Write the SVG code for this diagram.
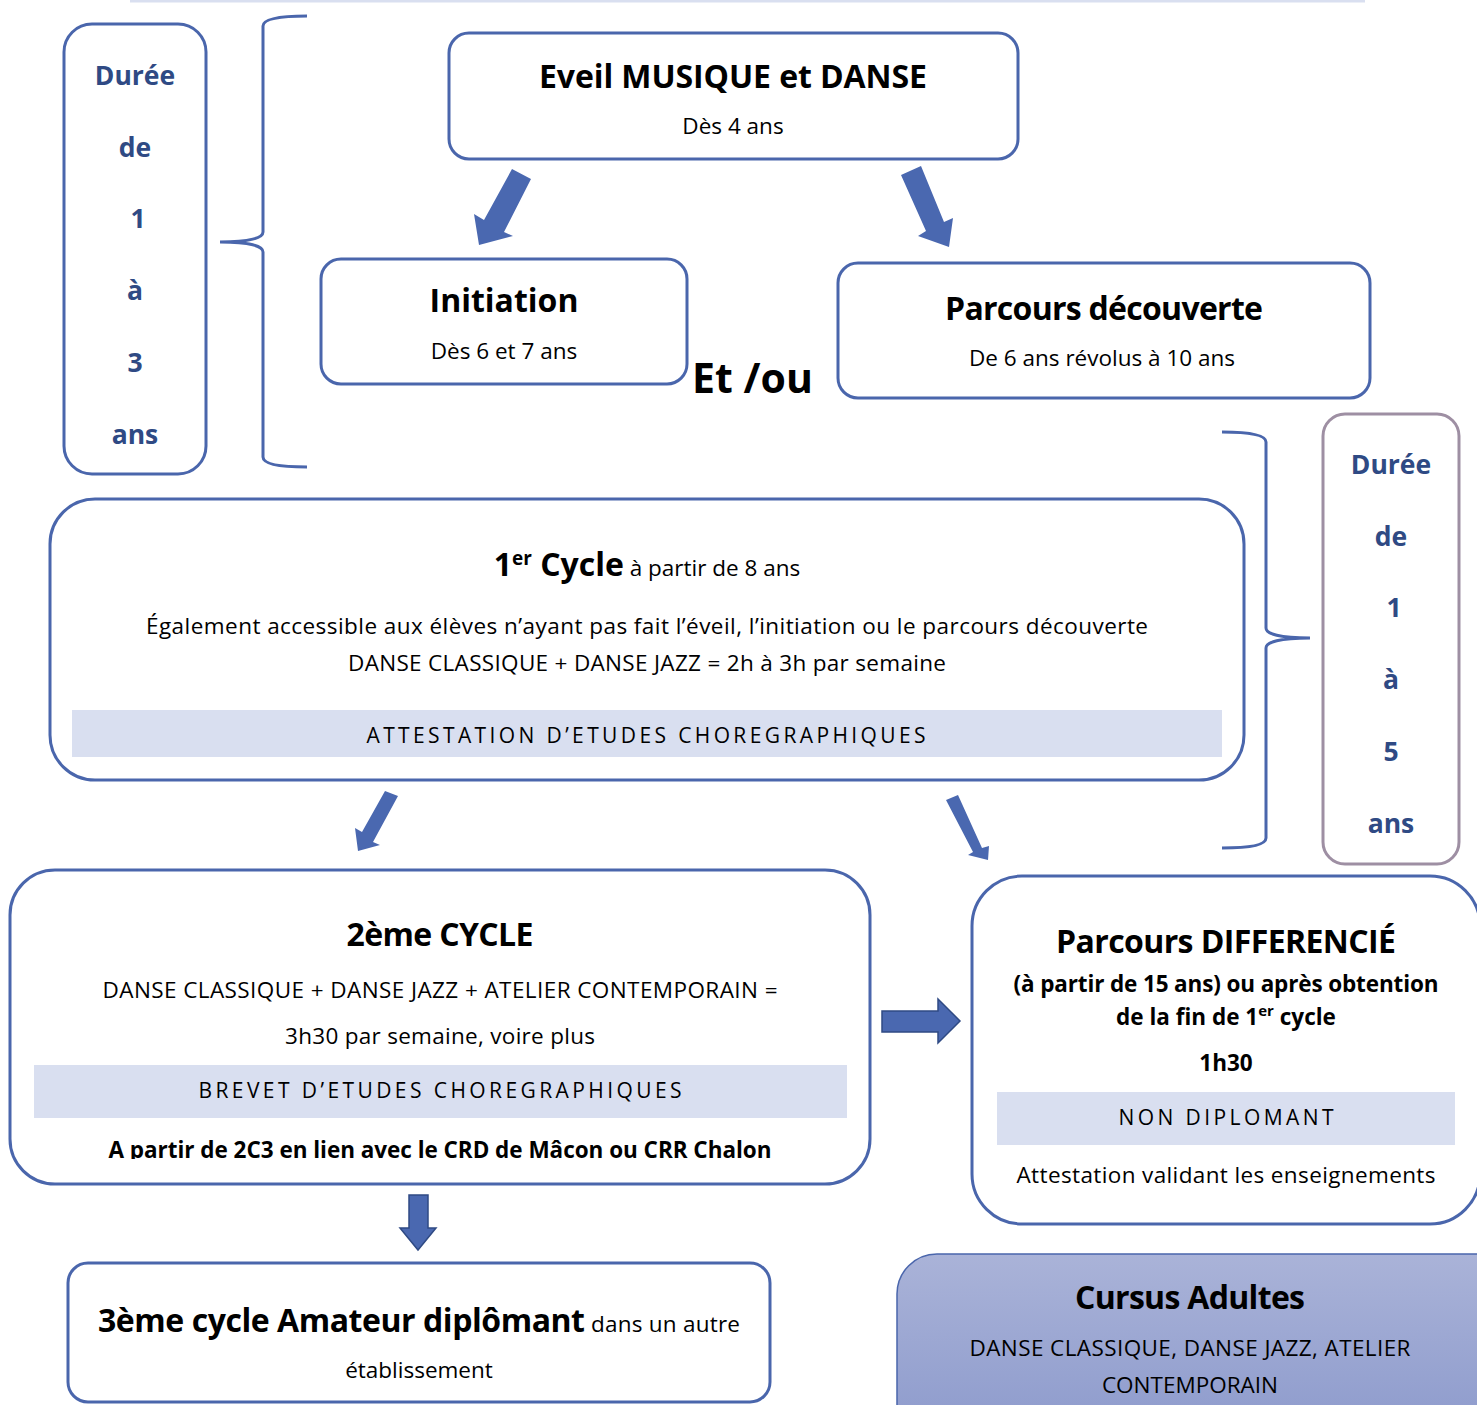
<svg xmlns="http://www.w3.org/2000/svg" width="1477" height="1405" viewBox="0 0 1477 1405">
<style>
text{font-family:"Open Sans","Noto Sans","Liberation Sans",sans-serif;fill:#000}
.box{fill:#fff;stroke:#4a66ac;stroke-width:3}
.t{font-size:32px;font-weight:bold;text-anchor:middle}
.b{font-size:22.5px;text-anchor:middle}
.bb{font-size:22.5px;font-weight:bold;text-anchor:middle}
.band{fill:#d9dff0}
.sp{font-size:21px;text-anchor:middle}
.dur{font-size:26.5px;font-weight:bold;fill:#2f4a84;text-anchor:middle}
.brace{fill:none;stroke:#4a66ac;stroke-width:3}
.arr{fill:#4a68b0}
.arr2{fill:#4a68b0;stroke:#2f4a84;stroke-width:1.5}
</style>
<defs>
<linearGradient id="g" x1="0" y1="0" x2="0" y2="1">
<stop offset="0" stop-color="#aab3d8"/>
<stop offset="1" stop-color="#8a98cb"/>
</linearGradient>
<clipPath id="c2"><rect x="11" y="871" width="858" height="288"/></clipPath>
</defs>
<line x1="130" y1="1" x2="1365" y2="1" stroke="#d9dff0" stroke-width="3"/>
<g id="duree1">
<rect x="64" y="24" width="142" height="450" rx="28" class="box"/>
<text class="dur" x="135" y="85">Durée</text>
<text class="dur" x="135" y="157">de</text>
<text class="dur" x="138" y="228">1</text>
<text class="dur" x="135" y="300">à</text>
<text class="dur" x="135" y="372">3</text>
<text class="dur" x="135" y="444">ans</text>
</g>
<g id="duree2">
<rect x="1323" y="414" width="136" height="450" rx="22" fill="#fff" stroke="#9e8fa3" stroke-width="3"/>
<text class="dur" x="1391" y="474">Durée</text>
<text class="dur" x="1391" y="546">de</text>
<text class="dur" x="1394" y="617">1</text>
<text class="dur" x="1391" y="689">à</text>
<text class="dur" x="1391" y="761">5</text>
<text class="dur" x="1391" y="833">ans</text>
</g>
<g id="braces">
<path class="brace" d="M307,16 C285,16 263,18 263,26 L263,232 C263,238 250,242 220,242 C250,242 263,246 263,252 L263,457 C263,465 285,467 307,467"/>
<path class="brace" d="M1222,432 C1244,432 1266,434 1266,442 L1266,628 C1266,634 1280,638 1310,638 C1280,638 1266,642 1266,648 L1266,838 C1266,846 1244,848 1222,848"/>
</g>
<g id="eveil">
<rect x="449" y="33" width="569" height="126" rx="20" class="box"/>
<text class="t" x="733" y="88" textLength="388">Eveil MUSIQUE et DANSE</text>
<text class="b" x="733" y="134">Dès 4 ans</text>
</g>
<g id="initiation">
<rect x="321" y="259" width="366" height="125" rx="20" class="box"/>
<text class="t" x="504" y="312">Initiation</text>
<text class="b" x="504" y="359">Dès 6 et 7 ans</text>
</g>
<text x="692" y="393" style="font-size:41px;font-weight:bold" textLength="121">Et /ou</text>
<g id="decouverte">
<rect x="838" y="263" width="532" height="135" rx="20" class="box"/>
<text class="t" x="1104" y="320" textLength="318">Parcours découverte</text>
<text class="b" x="1102" y="366">De 6 ans révolus à 10 ans</text>
</g>
<g id="cycle1">
<rect x="50" y="499" width="1194" height="281" rx="45" class="box"/>
<text class="t" x="647" y="576">1<tspan dy="-11" style="font-size:19px">er</tspan><tspan dy="11"> Cycle</tspan><tspan style="font-size:22.5px;font-weight:normal"> à partir de 8 ans</tspan></text>
<text class="b" x="647" y="634" textLength="1002">Également accessible aux élèves n’ayant pas fait l’éveil, l’initiation ou le parcours découverte</text>
<text class="b" x="647" y="671" textLength="598">DANSE CLASSIQUE + DANSE JAZZ = 2h à 3h par semaine</text>
<rect x="72" y="710" width="1150" height="47" class="band"/>
<text class="sp" x="646" y="743" textLength="559">ATTESTATION D’ETUDES CHOREGRAPHIQUES</text>
</g>
<g id="cycle2">
<rect x="10" y="870" width="860" height="314" rx="45" class="box"/>
<text class="t" x="440" y="946" textLength="187">2ème CYCLE</text>
<text class="b" x="440" y="998" textLength="675">DANSE CLASSIQUE + DANSE JAZZ + ATELIER CONTEMPORAIN =</text>
<text class="b" x="440" y="1044" textLength="310">3h30 par semaine, voire plus</text>
<rect x="34" y="1065" width="813" height="53" class="band"/>
<text class="sp" x="440" y="1098" textLength="483">BREVET D’ETUDES CHOREGRAPHIQUES</text>
<text class="bb" x="440" y="1158" textLength="663" clip-path="url(#c2)">A partir de 2C3 en lien avec le CRD de Mâcon ou CRR Chalon</text>
</g>
<g id="differencie">
<rect x="972" y="876" width="508" height="348" rx="50" class="box"/>
<text class="t" x="1226" y="953" textLength="340">Parcours DIFFERENCIÉ</text>
<text class="bb" x="1226" y="992" textLength="425">(à partir de 15 ans) ou après obtention</text>
<text class="bb" x="1226" y="1025">de la fin de 1<tspan dy="-9" style="font-size:15px">er</tspan><tspan dy="9"> cycle</tspan></text>
<text class="bb" x="1226" y="1071">1h30</text>
<rect x="997" y="1092" width="458" height="53" class="band"/>
<text class="sp" x="1226" y="1125" textLength="215">NON DIPLOMANT</text>
<text class="b" x="1226" y="1183" textLength="419">Attestation validant les enseignements</text>
</g>
<g id="cycle3">
<rect x="68" y="1263" width="702" height="139" rx="20" class="box"/>
<text x="98" y="1332" style="font-size:32px;font-weight:bold" textLength="487">3ème cycle Amateur diplômant</text>
<text x="591" y="1332" style="font-size:22.5px" textLength="149">dans un autre</text>
<text class="b" x="419" y="1378">établissement</text>
</g>
<g id="adultes">
<rect x="897" y="1254" width="620" height="200" rx="40" fill="url(#g)" stroke="#4a66ac" stroke-width="1.5"/>
<text class="t" x="1190" y="1309" textLength="230">Cursus Adultes</text>
<text class="b" x="1190" y="1356" textLength="441">DANSE CLASSIQUE, DANSE JAZZ, ATELIER</text>
<text class="b" x="1190" y="1393">CONTEMPORAIN</text>
</g>
<g id="connectors">
<polygon class="arr" points="512,169 531,179 504,232 513,236 479,245 474,214 484,220"/>
<polygon class="arr" points="901,175 921,166 944,222 953,218 949,247 918,236 926,231"/>
<polygon class="arr" points="385,791 398,796 373,842 380,845 358,851 355,828 362,832"/>
<polygon class="arr" points="946,800 958,795 982,848 989,846 988,860 968,855 973,852"/>
<polygon class="arr2" points="882,1011 938,1011 938,999 960,1021 938,1043 938,1032 882,1032"/>
<polygon class="arr2" points="409,1195 428,1195 428,1228 436,1228 418,1250 400,1228 409,1228"/>
</g>
</svg>
